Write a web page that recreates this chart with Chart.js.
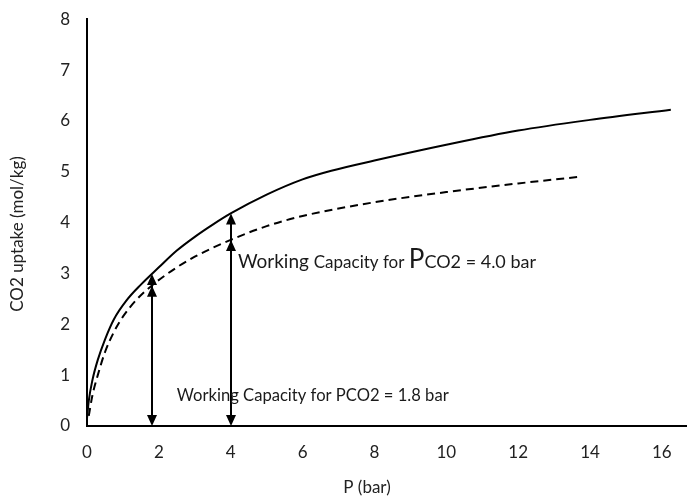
<!DOCTYPE html>
<html>
<head>
<meta charset="utf-8">
<script src="https://cdn.jsdelivr.net/npm/chart.js@4.4.1/dist/chart.umd.min.js"></script>
<style>
  html, body { margin: 0; padding: 0; background: #fff; overflow: hidden; }
  #wrap { width: 687px; height: 496px; }
</style>
</head>
<body>
<div id="wrap"><canvas id="uptakeChart" width="687" height="496"></canvas></div>
<script>
// isotherm at the higher uptake (solid) and the lower one (dashed)
var highP      = [0, 0.05, 0.15, 0.3, 0.5, 0.75, 1.1, 1.5, 2, 2.5, 3, 3.5, 4, 5, 6, 6.8, 8, 10, 12, 14, 16.25];
var highUptake = [0.15, 0.5, 0.9, 1.3, 1.7, 2.1, 2.47, 2.78, 3.12, 3.45, 3.72, 3.96, 4.18, 4.55, 4.85, 5.02, 5.22, 5.53, 5.81, 6.02, 6.22];
var lowP       = [0.05, 0.15, 0.3, 0.5, 0.75, 1, 1.4, 1.8, 2.5, 3, 4, 5, 6, 8, 10, 12, 13.7];
var lowUptake  = [0.2, 0.6, 1.0, 1.45, 1.85, 2.15, 2.5, 2.76, 3.12, 3.33, 3.66, 3.93, 4.13, 4.4, 4.6, 4.77, 4.9];

// working capacity arrows
var capacityP    = [1.8, 4.0];
var capacityHigh = [2.99, 4.18];
var capacityLow  = [2.76, 3.66];

var xTicks = [0, 2, 4, 6, 8, 10, 12, 14, 16];
var yTicks = [0, 1, 2, 3, 4, 5, 6, 7, 8];

function points(xs, ys){
    return xs.map(function(x, i){ return {x: x, y: ys[i]}; });
}

Chart.defaults.font.family = "Lato, 'Open Sans', sans-serif";
Chart.defaults.color = '#222';

function arrowHead(ctx, x, y, dir){
    // dir = -1 points up, 1 points down, tip sits on (x, y)
    ctx.beginPath();
    ctx.moveTo(x, y);
    ctx.lineTo(x - 5, y - dir * 11);
    ctx.lineTo(x + 5, y - dir * 11);
    ctx.closePath();
    ctx.fill();
}

var capacityArrows = {
    id: 'capacityArrows',
    afterDatasetsDraw: function(chart){
        var ctx = chart.ctx, xs = chart.scales.x, ys = chart.scales.y;
        ctx.save();
        ctx.strokeStyle = '#000';
        ctx.fillStyle = '#000';
        ctx.lineWidth = 2;
        capacityP.forEach(function(p, i){
            var x = Math.round(xs.getPixelForValue(p));
            var y0 = ys.getPixelForValue(0);
            var yHi = ys.getPixelForValue(capacityHigh[i]);
            var yLo = ys.getPixelForValue(capacityLow[i]);
            ctx.beginPath();
            ctx.moveTo(x, y0 - 4);
            ctx.lineTo(x, yHi + 4);
            ctx.stroke();
            arrowHead(ctx, x, y0, 1);
            arrowHead(ctx, x, yHi, -1);
            arrowHead(ctx, x, yLo, -1);
        });
        ctx.restore();
    }
};

// text runs of different sizes written one after another
function drawRuns(ctx, x, y, runs){
    runs.forEach(function(r){
        ctx.font = r[1] + "px Lato, 'Open Sans', sans-serif";
        ctx.fillText(r[0], x, y);
        x += ctx.measureText(r[0]).width;
    });
}

var notes = {
    id: 'notes',
    afterDraw: function(chart){
        var ctx = chart.ctx, xs = chart.scales.x, ys = chart.scales.y;
        ctx.save();
        ctx.fillStyle = '#1a1a1a';
        ctx.textBaseline = 'alphabetic';
        ctx.textAlign = 'left';
        drawRuns(ctx, xs.getPixelForValue(2.5), ys.getPixelForValue(0.49), [
            ['Working Capacity for PCO2 = 1.8 bar', 16.6]
        ]);
        drawRuns(ctx, xs.getPixelForValue(4.2), ys.getPixelForValue(3.1), [
            ['Working ', 19], ['Capacity for ', 17], ['P', 26], ['CO2 = 4.0 bar', 18]
        ]);

        // axis titles
        ctx.font = "17px Lato, 'Open Sans', sans-serif";
        ctx.fillStyle = '#222';
        ctx.textAlign = 'center';
        ctx.textBaseline = 'middle';
        ctx.fillText('P (bar)', 367, 488);
        ctx.translate(18, 234);
        ctx.rotate(-Math.PI / 2);
        ctx.fillText('CO2 uptake (mol/kg)', 0, 0);
        ctx.restore();
    }
};

new Chart(document.getElementById('uptakeChart'), {
    type: 'scatter',
    data: {
        datasets: [{
            data: points(highP, highUptake),
            showLine: true,
            borderColor: '#000',
            borderWidth: 2,
            pointRadius: 0,
            cubicInterpolationMode: 'monotone'
        }, {
            data: points(lowP, lowUptake),
            showLine: true,
            borderColor: '#000',
            borderWidth: 2,
            borderDash: [8, 5],
            pointRadius: 0,
            cubicInterpolationMode: 'monotone'
        }]
    },
    options: {
        responsive: false,
        animation: false,
        layout: { padding: { top: 18, left: 0, right: 0, bottom: 0 } },
        plugins: {
            legend: { display: false },
            tooltip: { enabled: false }
        },
        scales: {
            x: {
                type: 'linear',
                min: 0,
                max: 16.7,
                grid: { display: false },
                border: { display: true, color: '#000', width: 2 },
                ticks: { padding: 8, font: { size: 17 }, maxRotation: 0 },
                afterBuildTicks: function(scale){
                    scale.ticks = xTicks.map(function(v){ return {value: v}; });
                },
                afterFit: function(scale){ scale.height = 70; }
            },
            y: {
                type: 'linear',
                min: 0,
                max: 8,
                grid: { display: false },
                border: { display: true, color: '#000', width: 2 },
                ticks: { padding: 9, font: { size: 17 } },
                afterBuildTicks: function(scale){
                    scale.ticks = yTicks.map(function(v){ return {value: v}; });
                },
                afterFit: function(scale){ scale.width = 87; }
            }
        }
    },
    plugins: [capacityArrows, notes]
});
</script>
</body>
</html>
